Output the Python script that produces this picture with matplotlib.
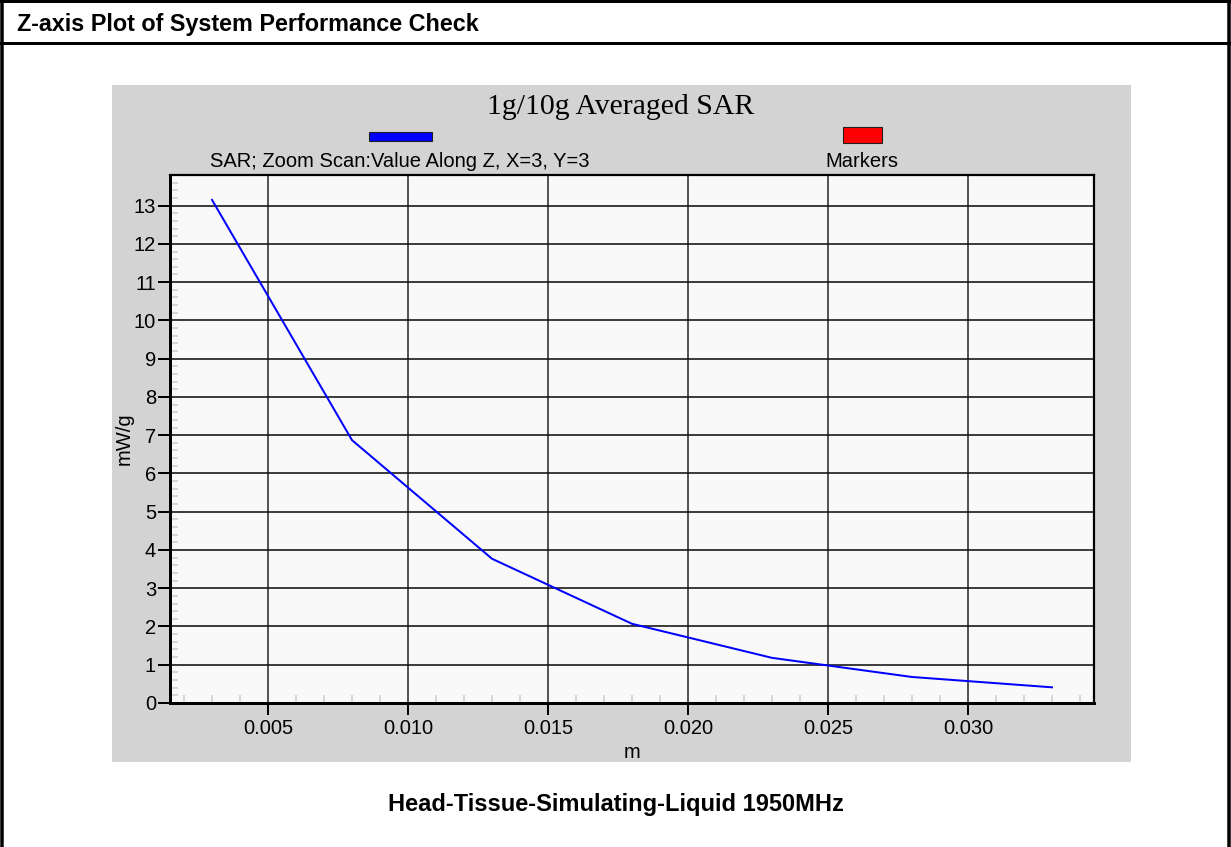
import matplotlib
matplotlib.use("Agg")
import matplotlib.pyplot as plt
from matplotlib.patches import Rectangle
from matplotlib.lines import Line2D
from matplotlib.ticker import MultipleLocator, FormatStrFormatter

# data
depth_m = [0.003, 0.008, 0.013, 0.018, 0.023, 0.028, 0.033]
sar_mw_g = [13.15, 6.87, 3.77, 2.07, 1.18, 0.68, 0.41]
x_ticks = [0.005, 0.010, 0.015, 0.020, 0.025, 0.030]
y_ticks = list(range(0, 14))

W, H = 1231, 847
PT = 0.72  # points per pixel at dpi 100
plt.rcParams["font.family"] = ["Liberation Sans", "DejaVu Sans"]


def fx(px):
    return px / W


def fy(py):
    return 1 - py / H


fig = plt.figure(figsize=(W / 100, H / 100), dpi=100, facecolor="white")

# gray panel behind the chart
fig.add_artist(Rectangle((fx(112), fy(762)), fx(1131) - fx(112), fy(85) - fy(762),
                         transform=fig.transFigure, facecolor="#d3d3d3",
                         edgecolor="none", zorder=0))

# outer frame and header separator
for x0, y0, x1, y1, lw in [(2, 0, 2, H, 3.5), (1229, 0, 1229, H, 3.5),
                           (0, 1.5, W, 1.5, 3), (0, 43, W, 43, 3)]:
    fig.add_artist(Line2D([fx(x0), fx(x1)], [fy(y0), fy(y1)], color="black",
                          lw=lw * PT, transform=fig.transFigure))

fig.text(fx(17), fy(31), "Z-axis Plot of System Performance Check",
         fontsize=16.8, fontweight="bold", ha="left", va="baseline")
fig.text(fx(616), fy(811), "Head-Tissue-Simulating-Liquid 1950MHz",
         fontsize=17, fontweight="bold", ha="center", va="baseline")

# chart title and legend
fig.text(fx(621), fy(114), "1g/10g Averaged SAR", fontsize=21.4,
         family=["Liberation Serif", "DejaVu Serif"], ha="center", va="baseline")
fig.add_artist(Rectangle((fx(369), fy(141)), fx(432) - fx(369), fy(132) - fy(141),
                         transform=fig.transFigure, facecolor="#0000ff",
                         edgecolor="#202020", lw=0.8))
fig.add_artist(Rectangle((fx(843), fy(143)), fx(882) - fx(843), fy(127) - fy(143),
                         transform=fig.transFigure, facecolor="#ff0000",
                         edgecolor="#202020", lw=0.8))
fig.text(fx(400), fy(167), "SAR; Zoom Scan:Value Along Z, X=3, Y=3",
         fontsize=14.5, ha="center", va="baseline")
fig.text(fx(862), fy(167), "Markers", fontsize=14.5, ha="center", va="baseline")

ax = fig.add_axes([fx(170), fy(703), fx(1094) - fx(170), fy(175) - fy(703)])
ax.set_facecolor("#f9f9f9")
ax.plot(depth_m, sar_mw_g, color="#0000ff", lw=2 * PT, zorder=3)

ax.set_xlim(0.0015, 0.0345)
ax.set_ylim(0, 13.8)
ax.set_xticks(x_ticks)
ax.set_yticks(y_ticks)
ax.xaxis.set_major_formatter(FormatStrFormatter("%.3f"))
ax.xaxis.set_minor_locator(MultipleLocator(0.001))
ax.yaxis.set_minor_locator(MultipleLocator(0.2))

ax.grid(True, which="major", axis="y", color="#111111", lw=1.6 * PT)
ax.grid(True, which="major", axis="x", color="#444444", lw=1.8 * PT)
ax.set_axisbelow(True)

ax.tick_params(which="major", direction="out", length=12 * PT, width=2 * PT,
               labelsize=14.5, colors="black")
ax.tick_params(which="minor", direction="in", length=8 * PT, width=1.6 * PT,
               color="#cfcfcf")
ax.tick_params(axis="x", which="major", pad=4 * PT)
ax.tick_params(axis="y", which="major", pad=2 * PT)

for side in ["left", "bottom"]:
    ax.spines[side].set_linewidth(3 * PT)
for side in ["top", "right"]:
    ax.spines[side].set_linewidth(2.2 * PT)

ax.set_xlabel("m", fontsize=14.5)
ax.set_ylabel("mW/g", fontsize=14.5)
ax.xaxis.set_label_coords(0.5, -0.076)
ax.yaxis.set_label_coords(-0.039, 0.5)

fig.savefig("out.png", dpi=100, facecolor="white")
